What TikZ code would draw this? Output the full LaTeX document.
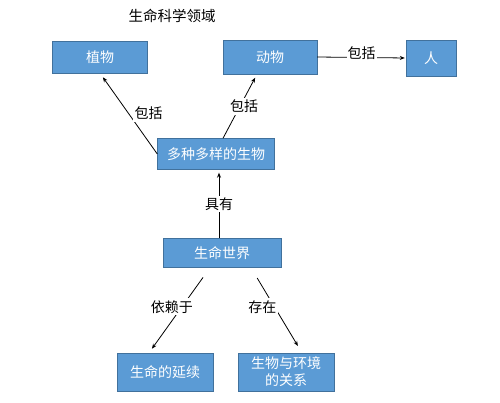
\documentclass[tikz,border=0pt]{standalone}
\usepackage{fontspec}
\setmainfont{Noto Sans CJK SC}
\usetikzlibrary{arrows.meta}
\definecolor{boxblue}{HTML}{5B9BD5}
\definecolor{boxedge}{HTML}{41719C}
\tikzstyle{box} = [draw=boxedge, fill=boxblue, text=white, align=center, inner sep=0pt, font=\fontsize{14}{17}\selectfont]
\tikzstyle{lab} = [fill=white, inner sep=2pt, font=\fontsize{14}{17}\selectfont]
\tikzstyle{link} = [->, line width=0.8pt, >={Stealth[length=5pt,width=4pt]}]

\begin{document}
\begin{tikzpicture}[x=1pt,y=-1pt]
  \useasboundingbox (0,0) rectangle (500,403);
  \node (title) at (172,16) [font=\fontsize{14.5}{17}\selectfont] {生命科学领域};
  \node (plant) at (100,57) [box, minimum width=95pt, minimum height=32pt] {植物};
  \node (animal) at (270,57) [box, minimum width=94pt, minimum height=34pt] {动物};
  \node (human) at (431,58) [box, minimum width=50pt, minimum height=36pt] {人};
  \node (diverse) at (216,154) [box, minimum width=117pt, minimum height=31pt] {多种多样的生物};
  \node (world) at (222,253) [box, minimum width=118pt, minimum height=29pt] {生命世界};
  \node (life) at (165,372) [box, minimum width=96pt, minimum height=38pt] {生命的延续};
  \node (env) at (286,372) [box, minimum width=96pt, minimum height=38pt] {生物与环境\\的关系};
  \draw [link, shorten >=5pt] (diverse.west) to node [lab, xshift=20pt] {包括} (plant.south);
  \draw [link, shorten >=4pt] ([xshift=7pt]diverse.north) to node [lab, xshift=4pt] {包括} ([xshift=-13pt]animal.south);
  \draw [link, shorten >=1pt] (animal.east) to node [lab, yshift=4pt, inner sep=1pt] {包括} (human.west);
  \draw [link, shorten >=3pt] ([xshift=-3pt]world.north) to node [lab] {具有} ([xshift=3pt]diverse.south);
  \draw [link, shorten <=12pt, shorten >=5pt] ([xshift=-12pt]world.south) to node [lab, xshift=-10pt, pos=0.46] {依赖于} ([xshift=-16pt]life.north);
  \draw [link, shorten <=12pt, shorten >=8pt] ([xshift=29pt]world.south) to node [lab, xshift=-12pt, pos=0.46] {存在} ([xshift=16pt]env.north);
\end{tikzpicture}
\end{document}
